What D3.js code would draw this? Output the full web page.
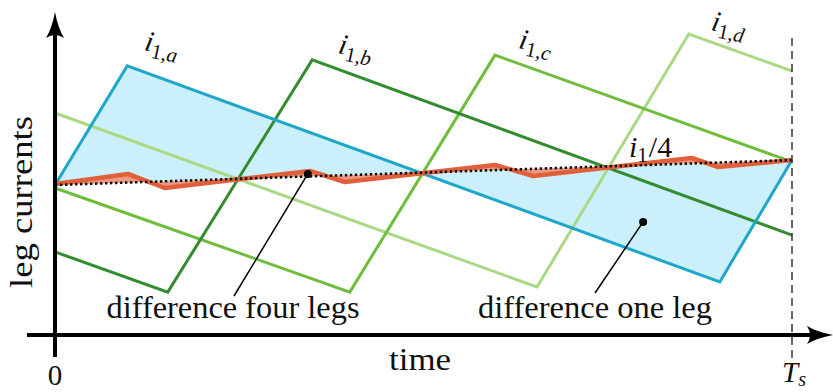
<!DOCTYPE html>
<html>
<head>
<meta charset="utf-8">
<script src="https://cdn.jsdelivr.net/npm/d3@7/dist/d3.min.js"></script>
<style>
  html, body { margin: 0; padding: 0; background: #fff; }
  svg { display: block; }
</style>
</head>
<body>
<svg id="chart" width="833" height="392" font-family="'Liberation Serif', 'DejaVu Serif', serif"></svg>
<script>
// Leg currents over one switching period (t as fraction of Ts, current in arbitrary units)
const legA = [[0, 5.0], [0.098, 8.97], [0.902, 1.77], [1, 5.83]];
const legB = [[0, 2.77], [0.153, 1.43], [0.349, 9.17], [1, 3.33]];
const legC = [[0, 4.9], [0.400, 1.43], [0.597, 9.33], [1, 5.77]];
const legD = [[0, 7.4], [0.654, 1.6], [0.860, 10.03], [1, 8.8]];
// Average leg current i1/4 (sum of the four legs divided by four)
const avgLeg = [[0, 5.03], [0.099, 5.37], [0.149, 4.9], [0.346, 5.47], [0.393, 5.1],
                [0.597, 5.67], [0.649, 5.3], [0.864, 5.9], [0.9, 5.6], [1, 5.83]];
// Mean trend of i1/4
const meanLine = [[0, 5.0], [1, 5.83]];

const legNames = ["a", "b", "c", "d"];
const legColors = ["#1fa6cb", "#338c30", "#6fbd3c", "#a9d985"];
const legLabelPos = [[0.120, 9.5, 12], [0.383, 9.4, 12], [0.628, 9.57, 12], [0.889, 10.17, 12]];
const xTickLabels = ["0", "Ts"];
const axisTitles = { x: "time", y: "leg currents" };
const notes = ["difference four legs", "difference one leg"];

const svg = d3.select("#chart");
const x = d3.scaleLinear().domain([0, 1]).range([55, 792]);
const y = d3.scaleLinear().domain([0, 10]).range([335, 35]);
const line = d3.line().x(d => x(d[0])).y(d => y(d[1]));

// Shaded area between a single leg (a) and the mean trend
const bandPts = legA.concat(meanLine.slice().reverse());
svg.append("path").attr("d", line(bandPts) + "Z")
  .attr("fill", "#ccf0fb").attr("stroke", "none");

// Leg currents
const legs = [legA, legB, legC, legD];
[3, 2, 1, 0].forEach(k => {
  svg.append("path").attr("d", line(legs[k]))
    .attr("fill", "none").attr("stroke", legColors[k])
    .attr("stroke-width", 3).attr("stroke-linejoin", "miter");
});

// Shaded area between the averaged current and the mean trend
const avgBand = avgLeg.concat(meanLine.slice().reverse());
svg.append("path").attr("d", line(avgBand) + "Z")
  .attr("fill", "#ec9a86").attr("stroke", "none");
svg.append("path").attr("d", line(avgLeg))
  .attr("fill", "none").attr("stroke", "#e0603c")
  .attr("stroke-width", 4.5).attr("stroke-linejoin", "round");

// Mean trend (dotted)
svg.append("path").attr("d", line(meanLine))
  .attr("fill", "none").attr("stroke", "#111")
  .attr("stroke-width", 2.6).attr("stroke-dasharray", "2.4,2.6");

// Ts marker
svg.append("line")
  .attr("x1", x(1)).attr("x2", x(1)).attr("y1", 38).attr("y2", 368)
  .attr("stroke", "#333").attr("stroke-width", 1.5).attr("stroke-dasharray", "8,5");

// Axes
const x0 = x(0), y0 = y(0);
svg.append("line").attr("x1", 27).attr("x2", 818).attr("y1", y0).attr("y2", y0)
  .attr("stroke", "#000").attr("stroke-width", 4);
svg.append("line").attr("x1", x0).attr("x2", x0).attr("y1", 357).attr("y2", 30)
  .attr("stroke", "#000").attr("stroke-width", 4);
// arrow heads
svg.append("path")
  .attr("d", `M${x0},12 Q${x0 + 3},28 ${x0 + 9},38 Q${x0},32 ${x0 - 9},38 Q${x0 - 3},28 ${x0},12 Z`)
  .attr("fill", "#000");
svg.append("path")
  .attr("d", `M833,${y0} Q817,${y0 + 3} 807,${y0 + 9} Q813,${y0} 807,${y0 - 9} Q817,${y0 - 3} 833,${y0} Z`)
  .attr("fill", "#000");

// Axis labels
svg.append("text").attr("x", x0).attr("y", 385).attr("text-anchor", "middle")
  .attr("font-size", 29).attr("fill", "#111").text(xTickLabels[0]);
const ts = svg.append("text").attr("x", 782).attr("y", 382).attr("font-size", 29).attr("fill", "#111");
ts.append("tspan").attr("font-style", "italic").text(xTickLabels[1][0]);
ts.append("tspan").attr("font-style", "italic").attr("font-size", 20).attr("dy", 4).text(xTickLabels[1].slice(1));

svg.append("text").attr("x", 420).attr("y", 370).attr("text-anchor", "middle")
  .attr("font-size", 31).attr("fill", "#111")
  .attr("textLength", 62).attr("lengthAdjust", "spacingAndGlyphs")
  .text(axisTitles.x);
svg.append("text").attr("transform", "translate(32,202) rotate(-90)")
  .attr("text-anchor", "middle").attr("font-size", 31).attr("fill", "#111")
  .attr("textLength", 172).attr("lengthAdjust", "spacingAndGlyphs")
  .text(axisTitles.y);

// Leg labels
legNames.forEach((n, k) => {
  const p = legLabelPos[k];
  const t = svg.append("text")
    .attr("transform", `translate(${x(p[0])},${y(p[1])}) rotate(${p[2]})`)
    .attr("font-size", 29).attr("fill", "#111");
  t.append("tspan").attr("font-style", "italic").text("i");
  t.append("tspan").attr("font-size", 21).attr("dy", 6).text("1,");
  t.append("tspan").attr("font-size", 21).attr("font-style", "italic").text(n);
});

// i1/4 label
const il = svg.append("text").attr("x", 629).attr("y", 157).attr("font-size", 30).attr("fill", "#111");
il.append("tspan").attr("font-style", "italic").text("i");
il.append("tspan").attr("font-size", 21).attr("dy", 5).text("1");
il.append("tspan").attr("dy", -5).attr("dx", 1).text("/4");

// Annotations
const ann = [
  { p: [0.343, 5.37], end: [234, 296], txt: notes[0], cx: 233, w: 253 },
  { p: [0.798, 3.77], end: [595, 293], txt: notes[1], cx: 595, w: 234 }
];
ann.forEach(a => {
  svg.append("line").attr("x1", x(a.p[0])).attr("y1", y(a.p[1]))
    .attr("x2", a.end[0]).attr("y2", a.end[1])
    .attr("stroke", "#000").attr("stroke-width", 1.5);
  svg.append("circle").attr("cx", x(a.p[0])).attr("cy", y(a.p[1])).attr("r", 4)
    .attr("fill", "#000");
  svg.append("text").attr("x", a.cx).attr("y", 318).attr("text-anchor", "middle")
    .attr("font-size", 31).attr("fill", "#111")
    .attr("textLength", a.w).attr("lengthAdjust", "spacingAndGlyphs")
    .text(a.txt);
});
</script>
</body>
</html>
